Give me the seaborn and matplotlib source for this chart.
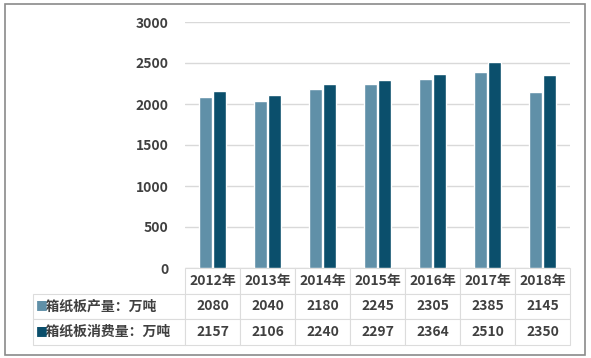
import matplotlib
matplotlib.use("Agg")
import matplotlib.pyplot as plt
from matplotlib.patches import Rectangle
import seaborn as sns
import pandas as pd

years = ["2012年", "2013年", "2014年", "2015年", "2016年", "2017年", "2018年"]
production = [2080, 2040, 2180, 2245, 2305, 2385, 2145]
consumption = [2157, 2106, 2240, 2297, 2364, 2510, 2350]
series_names = ["箱纸板产量：万吨", "箱纸板消费量：万吨"]
colors = ["#6090a8", "#0b4f6c"]
yticks = [0, 500, 1000, 1500, 2000, 2500, 3000]

df = pd.DataFrame({
    "year": years * 2,
    "value": production + consumption,
    "series": [series_names[0]] * len(years) + [series_names[1]] * len(years),
})

sns.set_theme(style="white")
plt.rcParams["font.family"] = ["Noto Sans CJK SC", "DejaVu Sans"]
txt = "#404040"

fig = plt.figure(figsize=(5.91, 3.58), dpi=100)
ax = fig.add_axes([185 / 591, 90 / 358, 385 / 591, 246 / 358])

sns.barplot(data=df, x="year", y="value", hue="series", palette=colors,
            saturation=1, width=0.52, gap=0.12, ax=ax, legend=False, zorder=3)

ax.set_ylim(0, 3000)
ax.set_yticks(yticks)
ax.set_yticklabels([str(v) for v in yticks], fontsize=10, color=txt, fontweight="bold")
ax.tick_params(axis="y", length=0, pad=12)
ax.set_xticks([])
ax.set_xlabel("")
ax.set_ylabel("")
ax.yaxis.grid(True, color="#d9d9d9", linewidth=1, zorder=0)
for s in ax.spines.values():
    s.set_visible(False)

# data table below the plot
cells = [[""] + years,
         [series_names[0]] + [str(v) for v in production],
         [series_names[1]] + [str(v) for v in consumption]]
lab_w = (185 - 33) / 385
tbl = ax.table(cellText=cells, cellLoc="center",
               colWidths=[lab_w] + [1 / 7] * 7,
               bbox=[-lab_w, -77 / 246, 1 + lab_w, 77 / 246])
tbl.auto_set_font_size(False)
for (r, c), cell in tbl.get_celld().items():
    cell.set_edgecolor("#dcdcdc")
    cell.set_linewidth(0.8)
    cell.get_text().set_color(txt)
    cell.get_text().set_fontsize(10)
    cell.get_text().set_fontweight("bold")
    if r == 0 and c == 0:
        cell.visible_edges = ""
    if c == 0 and r > 0:
        cell.PAD = 0.02
        cell._loc = "left"
        cell.get_text().set_ha("left")
        cell.get_text().set_text("   " + cells[r][0])

row_h = [24, 25, 27]
y_top = 0
for i in range(2):
    y_top -= row_h[i]
    yc = (y_top - row_h[i + 1] / 2) / 246
    ax.text(-lab_w + 0.008, yc, "■", transform=ax.transAxes, color=colors[i],
            fontsize=9, va="center", ha="left", family="DejaVu Sans")

fig.patches.append(Rectangle((5 / 591, 3 / 358), 580 / 591, 351 / 358,
                             transform=fig.transFigure, fill=False,
                             edgecolor="#8a8a8a", linewidth=1.2))

fig.savefig("out.png", dpi=100)
